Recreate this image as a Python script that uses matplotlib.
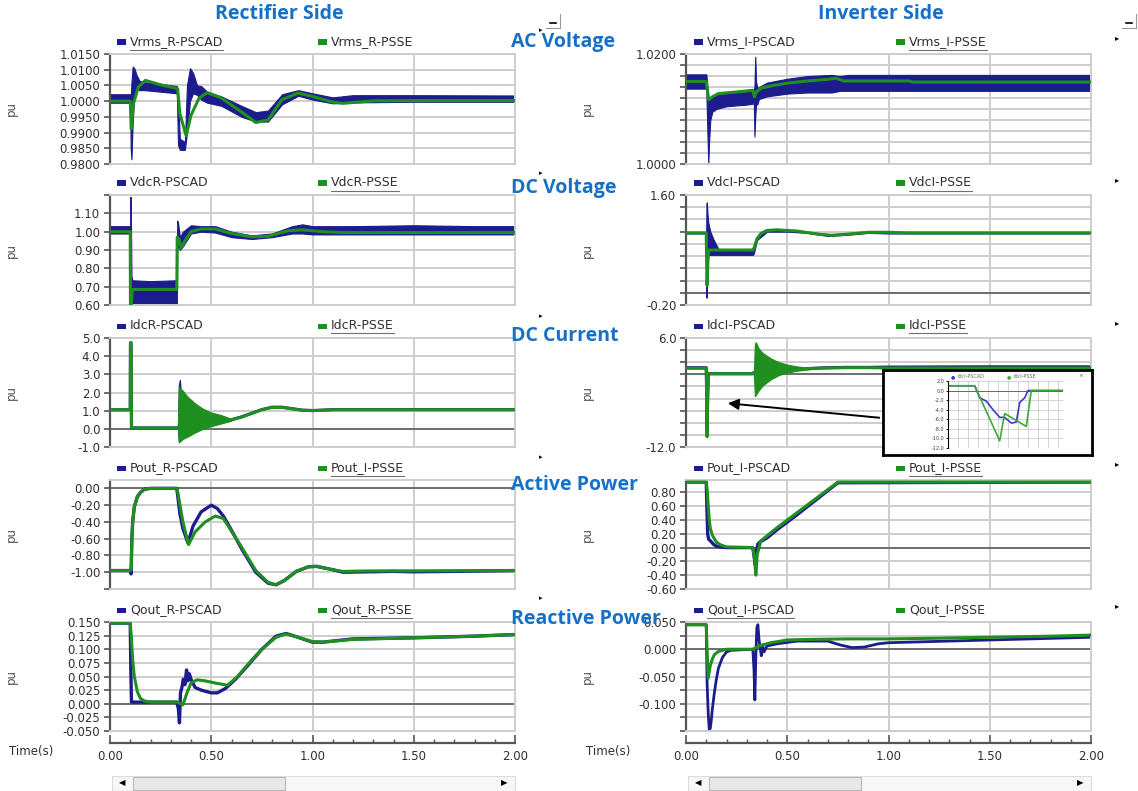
import matplotlib
matplotlib.use("Agg")
import matplotlib.pyplot as plt
import numpy as np
from matplotlib.patches import Rectangle, FancyArrowPatch
from matplotlib.lines import Line2D

W, H = 1138, 791
BLUE = "#1c1c8c"
GREEN = "#1f8f1f"
TITLE_BLUE = "#1670c6"
GRID = "#cdcdcd"

# ---------------- data ----------------
# Rectifier AC voltage (Vrms_R)
t_vr_psse = [0, 0.100, 0.105, 0.115, 0.14, 0.175, 0.25, 0.334, 0.345, 0.376, 0.40, 0.44, 0.48,
             0.55, 0.65, 0.72, 0.78, 0.85, 0.93, 1.00, 1.10, 1.15, 1.30, 1.60, 2.00]
v_vr_psse = [1.0000, 1.0000, 0.9912, 0.9990, 1.0045, 1.0066, 1.0052, 1.0040, 0.9960, 0.9890, 0.9955,
             1.0010, 1.0027, 1.0010, 0.9965, 0.9932, 0.9940, 1.0005, 1.0026, 1.0015, 0.9997, 0.9993,
             1.0001, 1.0002, 1.0002]
t_vr_pscad = [0, 0.100, 0.102, 0.106, 0.112, 0.120, 0.130, 0.145, 0.170, 0.25, 0.330, 0.336, 0.345,
              0.370, 0.380, 0.395, 0.410, 0.430, 0.450, 0.48, 0.55, 0.65, 0.72, 0.78, 0.85, 0.93,
              1.00, 1.10, 1.20, 1.50, 2.00]
lo_vr_pscad = [0.9995, 0.9995, 0.9850, 0.9815, 0.9930, 1.0020, 1.0040, 1.0035, 1.0035, 1.0030, 1.0025,
               0.9860, 0.9845, 0.9845, 0.9900, 1.0000, 1.0025, 1.0020, 1.0005, 0.9995, 0.9985, 0.9950,
               0.9935, 0.9935, 0.9990, 1.0017, 1.0005, 0.9993, 0.9996, 0.9998, 0.9998]
hi_vr_pscad = [1.0022, 1.0022, 1.0000, 1.0060, 1.0110, 1.0105, 1.0085, 1.0065, 1.0060, 1.0055, 1.0048,
               1.0010, 0.9880, 0.9870, 1.0050, 1.0105, 1.0090, 1.0050, 1.0048, 1.0030, 1.0015, 0.9985,
               0.9965, 0.9970, 1.0022, 1.0035, 1.0025, 1.0012, 1.0019, 1.0019, 1.0018]

# Rectifier DC voltage (VdcR)
t_vdr_psse = [0, 0.100, 0.101, 0.104, 0.110, 0.330, 0.332, 0.340, 0.352, 0.370, 0.40, 0.45, 0.52,
              0.60, 0.70, 0.78, 0.88, 0.95, 1.05, 1.15, 2.00]
v_vdr_psse = [1.00, 1.00, 0.58, 0.58, 0.685, 0.685, 0.97, 0.96, 0.91, 0.95, 1.00, 1.015, 1.015,
              0.99, 0.972, 0.975, 1.005, 1.01, 1.00, 0.995, 0.995]
t_vdr_pscad = [0, 0.100, 0.101, 0.103, 0.106, 0.110, 0.20, 0.330, 0.332, 0.336, 0.345, 0.36, 0.40,
               0.45, 0.52, 0.60, 0.70, 0.80, 0.90, 0.95, 1.00, 1.20, 1.50, 1.80, 2.00]
lo_vdr_pscad = [0.99, 0.99, 0.60, 0.58, 0.58, 0.60, 0.605, 0.60, 0.90, 0.93, 0.90, 0.92, 0.99,
                1.00, 0.995, 0.97, 0.96, 0.97, 0.99, 0.99, 0.985, 0.985, 0.985, 0.985, 0.985]
hi_vdr_pscad = [1.03, 1.03, 1.19, 1.10, 0.76, 0.735, 0.73, 0.735, 1.06, 1.05, 0.97, 1.00, 1.035,
                1.03, 1.03, 1.00, 0.98, 0.99, 1.03, 1.04, 1.03, 1.03, 1.035, 1.03, 1.03]

# Rectifier DC current (IdcR)
t_idr = [0, 0.100, 0.101, 0.104, 0.106, 0.335, 0.40, 0.50, 0.60, 0.65, 0.70, 0.75, 0.80, 0.85,
         0.90, 0.95, 1.00, 1.05, 1.10, 2.00]
v_idr_psse = [1.05, 1.05, 4.75, 4.75, 0.05, 0.05, 0.45, 0.45, 0.50, 0.65, 0.85, 1.05, 1.18, 1.18,
              1.10, 1.02, 1.00, 1.02, 1.05, 1.05]
v_idr_pscad = [1.05, 1.05, 4.70, 4.70, 0.05, 0.05, 0.45, 0.45, 0.50, 0.66, 0.86, 1.06, 1.19, 1.19,
               1.11, 1.03, 1.01, 1.03, 1.06, 1.06]
t_idr_osc = [0.335, 0.34, 0.36, 0.38, 0.42, 0.46, 0.50, 0.55, 0.60]
lo_idr_psse = [0.05, -0.75, -0.55, -0.45, -0.20, 0.00, 0.15, 0.30, 0.45]
hi_idr_psse = [0.05, 2.30, 2.10, 1.80, 1.40, 1.10, 0.90, 0.75, 0.55]
t_idr_spk = [0.335, 0.34, 0.345, 0.35]
lo_idr_pscad = [0.05, -0.70, -0.60, -0.50]
hi_idr_pscad = [0.05, 2.40, 2.70, 2.00]

# Rectifier active power (Pout_R)
t_pr_psse = [0, 0.100, 0.105, 0.108, 0.112, 0.120, 0.135, 0.15, 0.17, 0.20, 0.33, 0.335, 0.36,
             0.388, 0.42, 0.47, 0.52, 0.56, 0.65, 0.72, 0.78, 0.82, 0.86, 0.92, 0.98, 1.02, 1.10,
             1.15, 1.25, 2.00]
v_pr_psse = [-0.98, -0.98, -0.95, -0.60, -0.40, -0.22, -0.10, -0.05, -0.01, 0.00, 0.00, -0.05,
             -0.40, -0.67, -0.52, -0.40, -0.33, -0.36, -0.70, -0.98, -1.12, -1.15, -1.10, -0.99,
             -0.935, -0.93, -0.97, -0.99, -0.985, -0.98]
t_pr_pscad = [0, 0.100, 0.104, 0.108, 0.112, 0.120, 0.135, 0.15, 0.17, 0.20, 0.33, 0.335, 0.345,
              0.36, 0.385, 0.41, 0.45, 0.50, 0.53, 0.56, 0.60, 0.65, 0.72, 0.78, 0.82, 0.86, 0.92,
              0.98, 1.02, 1.10, 1.15, 1.40, 1.50, 1.70, 2.00]
v_pr_pscad = [-0.98, -0.98, -1.02, -0.60, -0.40, -0.22, -0.10, -0.05, -0.01, 0.00, 0.00, -0.10,
              -0.30, -0.48, -0.65, -0.45, -0.28, -0.20, -0.24, -0.33, -0.50, -0.72, -1.00, -1.13,
              -1.15, -1.10, -0.99, -0.935, -0.93, -0.97, -1.00, -0.99, -0.995, -0.99, -0.98]

# Rectifier reactive power (Qout_R)
t_qr_psse = [0, 0.100, 0.105, 0.112, 0.120, 0.135, 0.15, 0.17, 0.20, 0.33, 0.35, 0.36, 0.38, 0.40,
             0.43, 0.47, 0.52, 0.58, 0.63, 0.68, 0.75, 0.82, 0.87, 0.92, 1.00, 1.05, 1.20, 1.50,
             1.80, 2.00]
v_qr_psse = [0.148, 0.148, 0.125, 0.080, 0.050, 0.022, 0.010, 0.005, 0.003, 0.003, 0.000, -0.002,
             0.020, 0.038, 0.044, 0.042, 0.038, 0.034, 0.050, 0.072, 0.100, 0.122, 0.128, 0.123,
             0.114, 0.113, 0.118, 0.121, 0.124, 0.127]
t_qr_pscad = [0, 0.100, 0.103, 0.106, 0.20, 0.33, 0.338, 0.343, 0.348, 0.355, 0.362, 0.370, 0.378,
              0.385, 0.392, 0.40, 0.42, 0.45, 0.50, 0.53, 0.57, 0.62, 0.68, 0.75, 0.82, 0.87, 0.92,
              1.00, 1.05, 1.20, 1.50, 1.80, 2.00]
v_qr_pscad = [0.148, 0.148, 0.060, 0.003, 0.003, 0.003, -0.010, -0.035, 0.020, 0.030, 0.045, 0.035,
              0.062, 0.042, 0.055, 0.045, 0.030, 0.025, 0.020, 0.020, 0.028, 0.045, 0.070, 0.100,
              0.124, 0.129, 0.123, 0.113, 0.113, 0.119, 0.121, 0.124, 0.127]

# Inverter AC voltage (Vrms_I)
t_vi_psse = [0, 0.100, 0.112, 0.13, 0.16, 0.25, 0.33, 0.338, 0.345, 0.37, 0.42, 0.50, 0.60, 0.70,
             0.74, 0.78, 1.10, 1.12, 2.00]
v_vi_psse = [1.0150, 1.0150, 1.0117, 1.0122, 1.0128, 1.0131, 1.0134, 1.0122, 1.0130, 1.0138,
             1.0142, 1.0147, 1.0151, 1.0154, 1.0156, 1.0151, 1.0151, 1.0149, 1.0149]
t_vi_pscad = [0, 0.100, 0.104, 0.110, 0.114, 0.120, 0.130, 0.150, 0.20, 0.30, 0.335, 0.338, 0.342,
              0.346, 0.352, 0.36, 0.40, 0.50, 0.60, 0.72, 0.76, 0.80, 1.00, 1.50, 2.00]
lo_vi_pscad = [1.0137, 1.0137, 1.0080, 1.0000, 1.0040, 1.0080, 1.0095, 1.0100, 1.0105, 1.0108,
               1.0110, 1.0050, 1.0085, 1.0110, 1.0108, 1.0118, 1.0123, 1.0128, 1.0130, 1.0130,
               1.0133, 1.0133, 1.0133, 1.0133, 1.0133]
hi_vi_pscad = [1.0163, 1.0163, 1.0150, 1.0110, 1.0115, 1.0118, 1.0122, 1.0125, 1.0128, 1.0132,
               1.0135, 1.0140, 1.0195, 1.0150, 1.0138, 1.0140, 1.0148, 1.0155, 1.0160, 1.0162,
               1.0160, 1.0162, 1.0162, 1.0162, 1.0162]

# Inverter DC voltage (VdcI)
t_vdi_psse = [0, 0.100, 0.101, 0.104, 0.108, 0.112, 0.33, 0.335, 0.35, 0.37, 0.40, 0.45, 0.55,
              0.65, 0.72, 0.80, 0.90, 1.00, 1.10, 2.00]
v_vdi_psse = [0.98, 0.98, 0.70, 0.12, 0.50, 0.70, 0.70, 0.72, 0.88, 0.97, 1.02, 1.03, 1.01, 0.96,
              0.94, 0.96, 0.99, 0.99, 0.98, 0.98]
t_vdi_pscad = [0, 0.100, 0.101, 0.103, 0.106, 0.110, 0.120, 0.135, 0.150, 0.160, 0.20, 0.33,
               0.335, 0.35, 0.40, 0.50, 0.60, 0.70, 0.80, 0.90, 1.00, 2.00]
lo_vdi_pscad = [0.97, 0.97, -0.08, 0.20, 0.62, 0.62, 0.62, 0.62, 0.62, 0.62, 0.62, 0.62, 0.64,
                0.86, 1.00, 1.00, 0.98, 0.93, 0.95, 0.98, 0.97, 0.97]
hi_vdi_pscad = [0.99, 0.99, 1.45, 1.48, 1.30, 1.15, 1.00, 0.88, 0.78, 0.72, 0.70, 0.70, 0.74,
                0.92, 1.04, 1.03, 1.00, 0.96, 0.97, 1.00, 0.99, 0.99]

# Inverter DC current (IdcI)
t_idi = [0, 0.100, 0.101, 0.104, 0.107, 0.110, 0.33, 0.335, 0.40, 0.50, 0.60, 0.70, 0.80, 0.90,
         1.00, 1.50, 2.00]
v_idi_psse = [1.0, 1.0, -1.0, -10.3, -4.0, 0.1, 0.1, 0.3, 0.6, 0.8, 0.95, 1.05, 1.1, 1.1, 1.05,
              1.05, 1.05]
v_idi_pscad = [1.1, 1.1, -1.0, -9.0, -4.0, 0.1, 0.1, 0.3, 0.6, 0.8, 0.95, 1.1, 1.15, 1.15, 1.2,
               1.25, 1.25]
t_idi_osc = [0.335, 0.340, 0.345, 0.36, 0.38, 0.42, 0.46, 0.50, 0.55, 0.60, 0.65]
lo_idi_psse = [0.1, -3.6, -3.4, -2.6, -1.8, -0.8, -0.1, 0.3, 0.6, 0.8, 0.95]
hi_idi_psse = [0.1, 5.0, 5.3, 4.2, 3.5, 2.6, 2.0, 1.6, 1.3, 1.1, 1.0]

# zoomed inset of the IdcI fault dip (inset grid units)
x_inset_psse = [0, 2.67, 5.17, 5.67, 7.83, 8.33, 11.5]
v_inset_psse = [1.0, 1.0, -10.5, -4.8, -7.5, 0.0, 0.0]
x_inset_pscad = [0, 2.67, 3.17, 3.83, 4.5, 5.17, 5.67, 6.33, 6.83, 7.17, 7.67, 8.0, 11.5]
v_inset_pscad = [1.0, 1.0, -1.5, -2.2, -4.0, -5.6, -5.6, -6.8, -6.6, -2.5, -1.5, 0.0, 0.0]

# Inverter active power (Pout_I)
t_pi_psse = [0, 0.100, 0.104, 0.110, 0.115, 0.120, 0.13, 0.15, 0.17, 0.20, 0.33, 0.338, 0.345,
             0.352, 0.37, 0.45, 0.55, 0.65, 0.75, 2.00]
v_pi_psse = [0.95, 0.95, 0.85, 0.60, 0.40, 0.28, 0.18, 0.08, 0.04, 0.01, 0.00, -0.15, -0.40, -0.10,
             0.10, 0.29, 0.51, 0.73, 0.95, 0.95]
t_pi_pscad = [0, 0.100, 0.103, 0.107, 0.112, 0.120, 0.135, 0.15, 0.18, 0.20, 0.33, 0.335, 0.342,
              0.348, 0.355, 0.365, 0.40, 0.45, 0.55, 0.65, 0.75, 2.00]
v_pi_pscad = [0.95, 0.95, 0.60, 0.20, 0.12, 0.10, 0.05, 0.02, 0.005, 0.00, 0.00, -0.10, -0.25,
              -0.05, 0.05, 0.08, 0.14, 0.26, 0.48, 0.71, 0.94, 0.95]

# Inverter reactive power (Qout_I)
t_qi_psse = [0, 0.100, 0.104, 0.110, 0.115, 0.120, 0.13, 0.14, 0.16, 0.18, 0.20, 0.33, 0.36, 0.42,
             0.50, 0.60, 0.80, 1.00, 1.20, 1.50, 1.80, 2.00]
v_qi_psse = [0.045, 0.045, 0.000, -0.053, -0.040, -0.030, -0.018, -0.010, -0.004, -0.002, 0.000,
             0.000, 0.006, 0.012, 0.017, 0.018, 0.019, 0.019, 0.020, 0.022, 0.024, 0.026]
t_qi_pscad = [0, 0.100, 0.104, 0.110, 0.115, 0.120, 0.125, 0.13, 0.14, 0.15, 0.16, 0.18, 0.20, 0.22,
              0.33, 0.336, 0.340, 0.345, 0.350, 0.355, 0.36, 0.365, 0.372, 0.378, 0.385, 0.40, 0.45,
              0.55, 0.70, 0.76, 0.82, 0.88, 0.95, 1.00, 1.20, 1.50, 1.80, 2.00]
v_qi_pscad = [0.045, 0.045, -0.060, -0.120, -0.148, -0.145, -0.130, -0.110, -0.080, -0.055, -0.035,
              -0.015, -0.005, -0.002, 0.000, -0.040, -0.093, -0.010, 0.040, 0.045, 0.020, 0.005,
              -0.012, 0.008, -0.005, 0.006, 0.010, 0.015, 0.015, 0.008, 0.003, 0.004, 0.010, 0.012,
              0.014, 0.017, 0.020, 0.022]

time_ticks = [0.0, 0.5, 1.0, 1.5, 2.0]


def rect(x0, y0, x1, y1):
    # pixel box (from top-left) -> figure fraction [l, b, w, h]
    return [x0 / W, 1 - y1 / H, (x1 - x0) / W, (y1 - y0) / H]


def fx(x):
    return x / W


def fy(y):
    return 1 - y / H


def setup(ax, ylim, step, labels, fmt):
    ax.set_xlim(0, 2)
    ax.set_ylim(*ylim)
    grid = np.round(np.arange(ylim[0], ylim[1] + step * 0.01, step), 6) + 0.0
    ax.set_yticks(grid)
    ax.set_yticklabels([fmt % (g + 0.0) if any(abs(g - l) < 1e-9 for l in labels) else ""
                        for g in grid])
    ax.set_xticks(time_ticks[1:-1])
    ax.set_xticklabels([])
    ax.tick_params(axis="x", length=0)
    ax.tick_params(axis="y", length=4, width=1.2, color="#555555", labelsize=8.5,
                   labelcolor="#303030", pad=3)
    ax.grid(True, color=GRID, lw=1.4)
    ax.set_axisbelow(True)
    for s in ("top", "right", "bottom"):
        ax.spines[s].set_color(GRID)
        ax.spines[s].set_linewidth(1.4)
    ax.spines["left"].set_color("#555555")
    ax.spines["left"].set_linewidth(1.6)
    if ylim[0] < 0 < ylim[1]:
        ax.axhline(0, color="#666666", lw=1.3, zorder=1.5)
    ax.set_ylabel("pu", fontsize=8.5, color="#505050")
    ax.yaxis.set_label_coords(-92 / 405, 0.5)


fig = plt.figure(figsize=(W / 100, H / 100), dpi=100)

rows = [(54, 164), (195, 305), (338, 447), (480, 589), (622, 731)]
LX = (110, 515)
RX = (686, 1091)

axs = {}
for i, (y0, y1) in enumerate(rows):
    axs["L", i] = fig.add_axes(rect(LX[0], y0, LX[1], y1))
    axs["R", i] = fig.add_axes(rect(RX[0], y0, RX[1], y1))

# left column: rectifier
ax = axs["L", 0]
setup(ax, (0.98, 1.015), 0.005, [0.98, 0.985, 0.99, 0.995, 1.0, 1.005, 1.01, 1.015], "%.4f")
ax.fill_between(t_vr_pscad, lo_vr_pscad, hi_vr_pscad, color=BLUE, lw=0.8, zorder=2)
ax.plot(t_vr_psse, v_vr_psse, color=GREEN, lw=2.2, zorder=3)

ax = axs["L", 1]
setup(ax, (0.6, 1.2), 0.1, [0.6, 0.7, 0.8, 0.9, 1.0, 1.1], "%.2f")
ax.fill_between(t_vdr_pscad, lo_vdr_pscad, hi_vdr_pscad, color=BLUE, lw=0.8, zorder=2)
ax.plot(t_vdr_psse, v_vdr_psse, color=GREEN, lw=2.2, zorder=3)

ax = axs["L", 2]
setup(ax, (-1.0, 5.0), 1.0, [-1, 0, 1, 2, 3, 4, 5], "%.1f")
ax.plot(t_idr, v_idr_pscad, color=BLUE, lw=2.2, zorder=2)
ax.fill_between(t_idr_spk, lo_idr_pscad, hi_idr_pscad, color=BLUE, lw=0.8, zorder=2)
ax.plot(t_idr, v_idr_psse, color=GREEN, lw=2.2, zorder=3)
ax.fill_between(t_idr_osc, lo_idr_psse, hi_idr_psse, color=GREEN, lw=0.8, zorder=3)

ax = axs["L", 3]
setup(ax, (-1.2, 0.1), 0.2, [], "%.2f")
pr_ticks = np.round(np.arange(-1.2, 0.01, 0.2), 6) + 0.0
ax.set_yticks(pr_ticks)
ax.set_yticklabels([""] + ["%.2f" % v for v in pr_ticks[1:]])
ax.plot(t_pr_pscad, v_pr_pscad, color=BLUE, lw=2.4, zorder=2)
ax.plot(t_pr_psse, v_pr_psse, color=GREEN, lw=2.2, zorder=3)

ax = axs["L", 4]
setup(ax, (-0.05, 0.15), 0.025, list(np.round(np.arange(-0.05, 0.151, 0.025), 6)), "%.3f")
ax.plot(t_qr_pscad, v_qr_pscad, color=BLUE, lw=2.4, zorder=2)
ax.plot(t_qr_psse, v_qr_psse, color=GREEN, lw=2.2, zorder=3)

# right column: inverter
ax = axs["R", 0]
setup(ax, (1.0, 1.02), 0.002, [1.0, 1.02], "%.4f")
ax.fill_between(t_vi_pscad, lo_vi_pscad, hi_vi_pscad, color=BLUE, lw=0.8, zorder=2)
ax.plot(t_vi_psse, v_vi_psse, color=GREEN, lw=2.2, zorder=3)

ax = axs["R", 1]
setup(ax, (-0.2, 1.6), 0.2, [-0.2, 1.6], "%.2f")
ax.fill_between(t_vdi_pscad, lo_vdi_pscad, hi_vdi_pscad, color=BLUE, lw=0.8, zorder=2)
ax.plot(t_vdi_psse, v_vdi_psse, color=GREEN, lw=2.2, zorder=3)

ax = axs["R", 2]
setup(ax, (-12.0, 6.0), 2.0, [-12, 6], "%.1f")
ax.plot(t_idi, v_idi_pscad, color=BLUE, lw=2.2, zorder=2)
ax.plot(t_idi, v_idi_psse, color=GREEN, lw=2.2, zorder=3)
ax.fill_between(t_idi_osc, lo_idi_psse, hi_idi_psse, color=GREEN, lw=0.8, zorder=3)

ax = axs["R", 3]
setup(ax, (-0.6, 0.98), 0.2, [], "%.2f")
pi_ticks = np.round(np.arange(-0.6, 0.81, 0.2), 6) + 0.0
ax.set_yticks(pi_ticks)
ax.set_yticklabels(["%.2f" % v for v in pi_ticks])
ax.plot(t_pi_pscad, v_pi_pscad, color=BLUE, lw=2.4, zorder=2)
ax.plot(t_pi_psse, v_pi_psse, color=GREEN, lw=2.2, zorder=3)

ax = axs["R", 4]
setup(ax, (-0.15, 0.05), 0.025, [-0.1, -0.05, 0.0, 0.05], "%.3f")
ax.plot(t_qi_pscad, v_qi_pscad, color=BLUE, lw=2.0, zorder=2)
ax.plot(t_qi_psse, v_qi_psse, color=GREEN, lw=2.2, zorder=3)

# legends above each panel
legend_rows = [
    ("Vrms_R-PSCAD", "Vrms_R-PSSE", "Vrms_I-PSCAD", "Vrms_I-PSSE", (0, 3)),
    ("VdcR-PSCAD", "VdcR-PSSE", "VdcI-PSCAD", "VdcI-PSSE", (1, 3)),
    ("IdcR-PSCAD", "IdcR-PSSE", "IdcI-PSCAD", "IdcI-PSSE", (1, 3)),
    ("Pout_R-PSCAD", "Pout_I-PSSE", "Pout_I-PSCAD", "Pout_I-PSSE", (1, 3)),
    ("Qout_R-PSCAD", "Qout_R-PSSE", "Qout_I-PSCAD", "Qout_I-PSSE", (1, 2)),
]
underlined = []
for i, (a, b, c, d, ul) in enumerate(legend_rows):
    y = rows[i][0] - 12
    items = [(117, a, BLUE), (318, b, GREEN), (694, c, BLUE), (896, d, GREEN)]
    for k, (x, label, col) in enumerate(items):
        fig.add_artist(Rectangle((fx(x), fy(y + 2.5)), 9 / W, 5 / H, transform=fig.transFigure,
                                 color=col, lw=0))
        t = fig.text(fx(x + 13), fy(y), label, fontsize=9, color="#303030", va="center")
        if k in ul:
            underlined.append(t)

# titles
fig.text(fx(279), fy(14), "Rectifier Side", family="Open Sans", weight="bold", fontsize=14,
         color=TITLE_BLUE, ha="center", va="center")
fig.text(fx(881), fy(14), "Inverter Side", family="Open Sans", weight="bold", fontsize=14,
         color=TITLE_BLUE, ha="center", va="center")
for label, y in [("AC Voltage", 42), ("DC Voltage", 188), ("DC Current", 336),
                 ("Active Power", 485), ("Reactive Power", 619)]:
    fig.text(fx(511), fy(y), label, family="Open Sans", weight="bold", fontsize=14,
             color=TITLE_BLUE, ha="left", va="center", zorder=10)

# little widget marks of the original tool
for y in [30, 173, 316, 457, 598]:
    fig.text(fx(541), fy(y), "\u25b8", fontsize=5, color="black", ha="center", va="center", zorder=11)
for y in [38, 180, 323, 464, 606]:
    fig.text(fx(1117), fy(y), "\u25b8", fontsize=6, color="black", ha="center", va="center")
for x0, y0 in [(546, 14), (1122, 14)]:
    fig.add_artist(Line2D([fx(x0), fx(x0 + 14), fx(x0 + 14)], [fy(y0 + 14), fy(y0 + 14), fy(y0)],
                          transform=fig.transFigure, color="#999999", lw=0.8))
    fig.add_artist(Line2D([fx(x0 + 4), fx(x0 + 10)], [fy(y0 + 9), fy(y0 + 9)],
                          transform=fig.transFigure, color="black", lw=1.2))

# inset on the inverter DC current panel
box = fig.add_axes(rect(883, 370, 1092, 455))
box.set_xticks([])
box.set_yticks([])
for s in box.spines.values():
    s.set_color("black")
    s.set_linewidth(2)
box.set_zorder(5)
ins = fig.add_axes(rect(948, 381, 1063, 448))
ins.set_zorder(6)
ins.set_xlim(0, 11.5)
ins.set_ylim(-12, 2)
ins.set_xticks(np.arange(0, 11.5, 1.0))
ins.set_xticklabels([])
ins.tick_params(axis="x", length=0)
ins_ticks = np.arange(-12, 2.1, 2) + 0.0
ins.set_yticks(ins_ticks)
ins.set_yticklabels(["%.1f" % v for v in ins_ticks], fontsize=3.5, color="#404040")
ins.tick_params(axis="y", length=1.5, pad=1, width=0.6)
ins.grid(True, color=GRID, lw=0.6)
ins.set_axisbelow(True)
for s in ("top", "right", "bottom"):
    ins.spines[s].set_visible(False)
ins.spines["left"].set_linewidth(0.8)
ins.axhline(0, color="#666666", lw=0.7)
ins.plot(x_inset_pscad, v_inset_pscad, color="#3a3ac8", lw=1.2)
ins.plot(x_inset_psse, v_inset_psse, color="#3aaa3a", lw=1.2)
for x, label, col in [(951, "Idcl-PSCAD", "#3a3ac8"), (1007, "Idcl-PSSE", "#3aaa3a")]:
    fig.text(fx(x), fy(377), "\u25cf", fontsize=3.5, color=col, va="center", zorder=7)
    fig.text(fx(x + 6), fy(377), label, fontsize=3.5, color="#606060", va="center", zorder=7)
fig.text(fx(1078), fy(376), "\u00d7", fontsize=4, color="#606060", va="center", zorder=7)

fig.add_artist(FancyArrowPatch((fx(882), fy(418)), (fx(725), fy(403)),
                               transform=fig.transFigure, arrowstyle="-|>",
                               mutation_scale=16, color="black", lw=1.4))

# time axes and scroll bars
for (x0, x1), tx in [(LX, 31), (RX, 608)]:
    tax = fig.add_axes(rect(x0, 733, x1, 743))
    tax.patch.set_visible(False)
    tax.set_xlim(0, 2)
    tax.set_yticks([])
    for s in ("top", "left", "right"):
        tax.spines[s].set_visible(False)
    tax.spines["bottom"].set_color("#555555")
    tax.spines["bottom"].set_linewidth(1.6)
    tax.set_xticks(time_ticks)
    tax.set_xticklabels(["%.2f" % v for v in time_ticks])
    tax.set_xticks(np.arange(0, 2.01, 0.1), minor=True)
    tax.tick_params(axis="x", which="major", direction="in", length=6, width=1.2, color="#555555",
                    labelsize=8.5, labelcolor="#303030", pad=5)
    tax.tick_params(axis="x", which="minor", direction="in", length=3, width=1, color="#555555")
    fig.text(fx(tx), fy(751), "Time(s)", fontsize=8.5, color="#303030", ha="center", va="center")

    fig.add_artist(Rectangle((fx(x0 + 2), fy(791)), (x1 - x0 - 2) / W, 15 / H,
                             transform=fig.transFigure, facecolor="#f7f7f7", edgecolor="#dddddd", lw=0.8))
    fig.add_artist(Rectangle((fx(x0 + 23), fy(790)), 152 / W, 13 / H, transform=fig.transFigure,
                             facecolor="#e8e8e8", edgecolor="#b8b8b8", lw=0.8))
    fig.text(fx(x0 + 12), fy(783), "\u25c0", fontsize=6, color="black", ha="center", va="center")
    fig.text(fx(x1 - 11), fy(783), "\u25b6", fontsize=6, color="black", ha="center", va="center")

# underline selected legend entries
fig.canvas.draw()
for t in underlined:
    bb = t.get_window_extent()
    fig.add_artist(Line2D([bb.x0 / W, bb.x1 / W], [(bb.y0 - 1) / H, (bb.y0 - 1) / H],
                          transform=fig.transFigure, color="#707070", lw=0.8))

fig.savefig("out.png", dpi=100)
